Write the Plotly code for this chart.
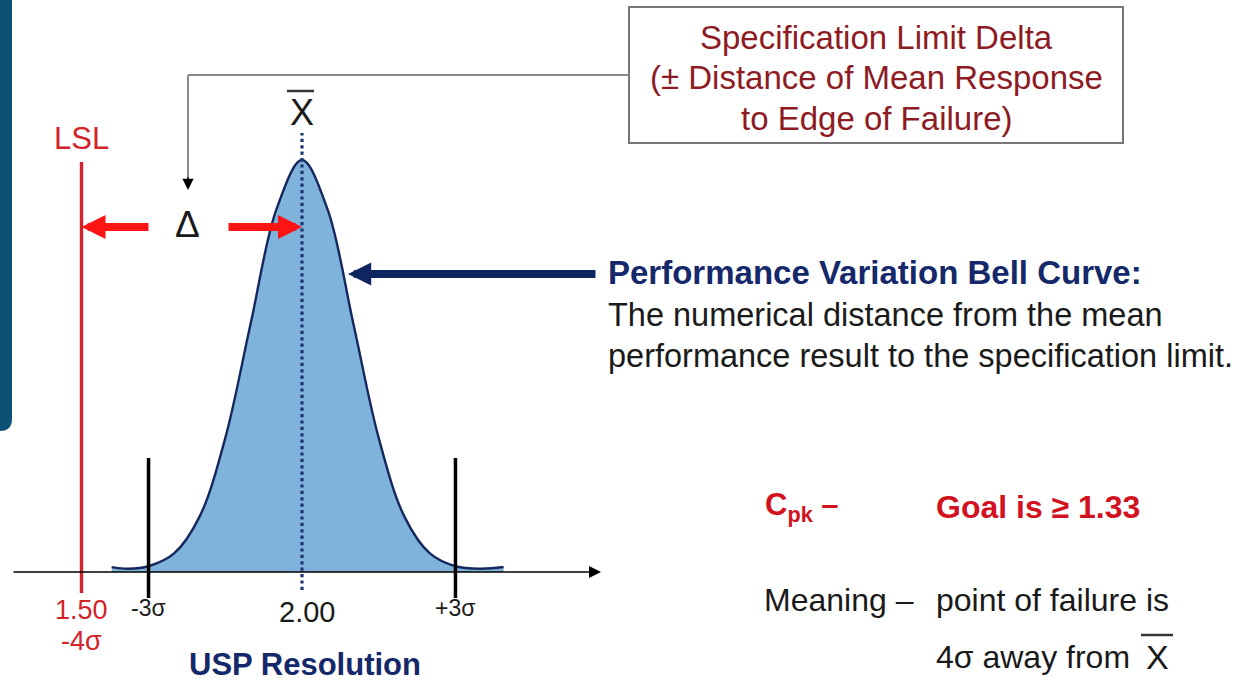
import plotly.graph_objects as go

# ---------------- data ----------------
MEAN = 2.00          # USP resolution at the mean (X-bar)
LSL = 1.50           # lower specification limit
SIGMA = 0.116        # one standard deviation, in resolution units
SIGMA_MARKS = [-3, 3]
SIGMA_LABELS = ["-3σ", "+3σ"]
LSL_SIGMA_LABEL = "-4σ"
# bell curve heights (relative to peak) read at multiples of sigma
CURVE_Z = [-3.72, -3.4, -3.0, -2.5, -2.0, -1.5, -1.0, -0.5, 0.0,
           0.5, 1.0, 1.5, 2.0, 2.5, 3.0, 3.5, 3.94]
CURVE_H = [0.012, 0.008, 0.014, 0.045, 0.135, 0.325, 0.605, 0.88, 1.0,
           0.88, 0.605, 0.325, 0.135, 0.045, 0.014, 0.008, 0.012]

BOX_LINES = ["Specification Limit Delta",
             "(± Distance of Mean Response",
             "to Edge of Failure)"]
BELL_TITLE = "Performance Variation Bell Curve:"
BELL_TEXT = ["The numerical distance from the mean",
             "performance result to the specification limit."]
AXIS_TITLE = "USP Resolution"

# ---------------- layout helpers ----------------
W, H = 1241, 683
SX = 441.0            # px per resolution unit
SY = 412.0            # px per unit of relative height
BASE_PX = 572.0       # baseline (y=0) pixel row
X0 = MEAN - 302.0 / SX


def xd(px):
    return X0 + px / SX


def yd(py):
    return (BASE_PX - py) / SY


def xp(px):
    return px / W


def yp(py):
    return 1 - py / H


FONT = "Liberation Sans, Arial, sans-serif"
NAVY = "#14286a"
RED = "#d2222a"
DARKRED = "#8e1b24"
TXT = "#1a1a1a"

curve_x = [MEAN + z * SIGMA for z in CURVE_Z]

fig = go.Figure()
fig.add_trace(go.Scatter(
    x=curve_x, y=CURVE_H, mode="lines",
    line=dict(color="#15285e", width=2.4, shape="spline", smoothing=1.0),
    fill="tozeroy", fillcolor="#7fb3dc", hoverinfo="skip", showlegend=False))

shapes = []
# left dark band
shapes.append(dict(type="path", xref="paper", yref="paper",
                   path=f"M 0,1 L {xp(12)},1 L {xp(12)},{yp(419)} Q {xp(12)},{yp(431)} 0,{yp(431)} Z",
                   fillcolor="#0b5275", line=dict(width=0), layer="above"))
# LSL line
shapes.append(dict(type="line", xref="x", yref="y", x0=LSL, x1=LSL, y0=yd(593), y1=yd(162),
                   line=dict(color=RED, width=3.4)))
# sigma lines
for m in SIGMA_MARKS:
    xv = MEAN + m * SIGMA
    shapes.append(dict(type="line", xref="x", yref="y", x0=xv, x1=xv, y0=yd(598), y1=yd(458),
                       line=dict(color="black", width=3.5)))
# mean dotted line
shapes.append(dict(type="line", xref="x", yref="y", x0=MEAN, x1=MEAN, y0=yd(590), y1=yd(133),
                   line=dict(color="#1c3570", width=3.2, dash="dot")))
# overline on X (top)
shapes.append(dict(type="line", xref="paper", yref="paper", x0=xp(287), x1=xp(314), y0=yp(91), y1=yp(91),
                   line=dict(color="#333333", width=2.5)))
# box
shapes.append(dict(type="rect", xref="paper", yref="paper", x0=xp(629), x1=xp(1123), y0=yp(143), y1=yp(7),
                   line=dict(color="#777777", width=2), fillcolor="white"))
# gray connector
shapes.append(dict(type="line", xref="paper", yref="paper", x0=xp(629), x1=xp(188), y0=yp(75), y1=yp(75),
                   line=dict(color="#8a8a8a", width=2)))
shapes.append(dict(type="line", xref="paper", yref="paper", x0=xp(188), x1=xp(188), y0=yp(75), y1=yp(182),
                   line=dict(color="#8a8a8a", width=2)))

annotations = []


def txt(text, x, y, size, color=TXT, anchor="center", xref="paper", yref="paper"):
    annotations.append(dict(text=text, x=x, y=y, xref=xref, yref=yref, showarrow=False,
                            xanchor=anchor, yanchor="middle",
                            font=dict(family=FONT, size=size, color=color)))


def arrow(x, y, ax, ay, color, width, size, head=2):
    annotations.append(dict(text="", x=x, y=y, ax=ax, ay=ay, xref="x", yref="y", axref="x", ayref="y",
                            showarrow=True, arrowhead=head, arrowsize=size, arrowwidth=width,
                            arrowcolor=color, standoff=0, startstandoff=0))


# axis with arrow
arrow(xd(601), 0, xd(12), 0, "black", 1.6, 1.5)
# red delta arrows
arrow(LSL, yd(227), xd(150), yd(227), "#ff1414", 8, 0.6)
arrow(MEAN, yd(227), xd(227), yd(227), "#ff1414", 8, 0.6)
# navy arrow to curve
arrow(xd(348), yd(274), xd(597), yd(274), "#0f2560", 8, 0.58)
# small black head of connector
arrow(xd(188), yd(190), xd(188), yd(176), "black", 1.6, 1.4)

# texts on chart
txt("LSL", LSL, yp(139), 31, RED, xref="x")
txt("X", MEAN, yp(112), 36, "#1a1a1a", xref="x")
txt("Δ", xd(187), yp(225), 37, "#1a1a1a", xref="x")
txt(f"{LSL:.2f}", LSL, yp(610), 27, RED, xref="x")
txt(LSL_SIGMA_LABEL, LSL, yp(641), 27, RED, xref="x")
for m, lab in zip(SIGMA_MARKS, SIGMA_LABELS):
    txt(lab, MEAN + m * SIGMA, yp(608), 23, TXT, xref="x")
txt(f"{MEAN:.2f}", MEAN + 0.012, yp(612), 29, TXT, xref="x")
txt(f"<b>{AXIS_TITLE}</b>", xd(305), yp(664), 31, NAVY, xref="x")

# box text
for i, line in enumerate(BOX_LINES):
    txt(line, xp(876), yp(37 + 41 * i), 33, DARKRED)

# bell curve explanation
txt(f"<b>{BELL_TITLE}</b>", xp(606), yp(273), 33, NAVY, anchor="left")
for i, line in enumerate(BELL_TEXT):
    txt(line, xp(606), yp(315 + 41 * i), 32.5, TXT, anchor="left")

# Cpk block
txt("<b>C<sub>pk</sub> –</b>", xp(763), yp(507), 31, "#d2121f", anchor="left")
txt("<b>Goal is ≥ 1.33</b>", xp(934), yp(507), 32, "#d2121f", anchor="left")
txt("Meaning –", xp(762), yp(600), 32, TXT, anchor="left")
txt("point of failure is", xp(934), yp(600), 32, TXT, anchor="left")
txt("4σ away from", xp(934), yp(657), 32, TXT, anchor="left")
txt("X", xp(1157), yp(657), 34, TXT)
shapes.append(dict(type="line", xref="paper", yref="paper", x0=xp(1141), x1=xp(1173), y0=yp(635), y1=yp(635),
                   line=dict(color="#333333", width=2.5)))

fig.update_layout(
    width=W, height=H, margin=dict(l=0, r=0, t=0, b=0),
    paper_bgcolor="white", plot_bgcolor="white",
    xaxis=dict(range=[xd(0), xd(W)], visible=False, fixedrange=True),
    yaxis=dict(range=[yd(H), yd(0)], visible=False, fixedrange=True),
    shapes=shapes, annotations=annotations, showlegend=False,
)
fig.write_html("out.html")
